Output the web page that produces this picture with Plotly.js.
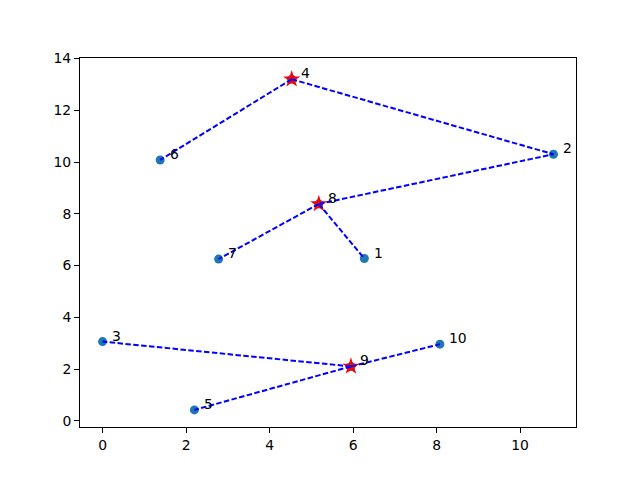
<!DOCTYPE html>
<html>
<head>
<meta charset="utf-8">
<script src="https://cdn.plot.ly/plotly-3.0.1.min.js"></script>
<style>
  html, body { margin: 0; padding: 0; background: #fff; }
  #chart { width: 640px; height: 480px; }
</style>
</head>
<body>
<div id="chart"></div>
<script>
// point ids and positions
const ids = [1, 2, 3, 4, 5, 6, 7, 8, 9, 10];
const xs = [6.27, 10.80, 0.00, 4.53, 2.20, 1.38, 2.78, 5.18, 5.95, 8.08];
const ys = [6.27, 10.30, 3.06, 13.20, 0.42, 10.08, 6.25, 8.38, 2.10, 2.96];
const hubs = [4, 8, 9];
const links = [[4, 6], [4, 2], [8, 2], [8, 7], [8, 1], [9, 3], [9, 5], [9, 10]];

const font = { family: 'DejaVu Sans, sans-serif', size: 13.9, color: '#000' };

const lineX = [];
const lineY = [];
links.forEach(([a, b]) => {
  lineX.push(xs[a - 1], xs[b - 1], null);
  lineY.push(ys[a - 1], ys[b - 1], null);
});

const traces = [
  {
    type: 'scatter', mode: 'markers',
    x: xs, y: ys,
    marker: { color: '#1f77b4', size: 9 },
    hoverinfo: 'skip',
  },
  {
    type: 'scatter', mode: 'markers',
    x: hubs.map((h) => xs[h - 1]),
    y: hubs.map((h) => ys[h - 1]),
    marker: { color: '#ff0000', size: 13, symbol: 'star', line: { width: 0 } },
    hoverinfo: 'skip',
  },
  {
    type: 'scatter', mode: 'lines',
    x: lineX, y: lineY,
    connectgaps: false,
    line: { color: '#0000ff', width: 2, dash: '5.5px,2.4px' },
    hoverinfo: 'skip',
  },
];

const annotations = ids.map((id, i) => ({
  x: xs[i] + 0.2, y: ys[i],
  xref: 'x', yref: 'y',
  text: String(id),
  showarrow: false,
  xanchor: 'left', yanchor: 'bottom',
  yshift: -4, xshift: -1,
  font,
}));

const axis = {
  showgrid: false, zeroline: false,
  showline: true, mirror: true, linecolor: '#000', linewidth: 1,
  ticks: 'outside', ticklen: 5, tickwidth: 1, tickcolor: '#000',
  tickfont: font,
};

Plotly.newPlot('chart', traces, {
  width: 640, height: 480,
  margin: { l: 80, r: 64, t: 58, b: 53 },
  paper_bgcolor: '#fff', plot_bgcolor: '#fff',
  showlegend: false,
  xaxis: { ...axis, range: [-0.54, 11.34], dtick: 2, tick0: 0 },
  yaxis: { ...axis, range: [-0.24, 14.02], dtick: 2, tick0: 0 },
  annotations,
}, { staticPlot: true });
</script>
</body>
</html>
